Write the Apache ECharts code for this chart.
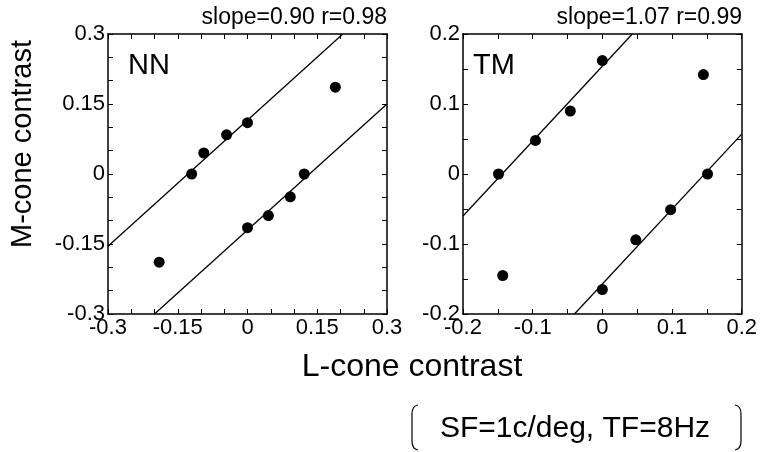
<!DOCTYPE html>
<html>
<head>
<meta charset="utf-8">
<script src="https://cdn.jsdelivr.net/npm/echarts@6/dist/echarts.min.js"></script>
<style>html,body{margin:0;padding:0;background:#fff}#c{width:760px;height:452px}</style>
</head>
<body>
<div id="c"></div>
<script>
// NN panel data (L-cone, M-cone)
var nnPoints = [[-0.190,-0.189],[-0.120,0.000],[-0.094,0.045],[-0.045,0.084],[0.000,0.110],
                [0.000,-0.115],[0.045,-0.089],[0.092,-0.049],[0.122,0.000],[0.189,0.186]];
var nnFitUpper = [[-0.3,-0.155],[0.205,0.3]];
var nnFitLower = [[-0.2,-0.3],[0.3,0.15]];
var nnStats = 'slope=0.90 r=0.98';
// TM panel data
var tmPoints = [[-0.149,0.000],[-0.096,0.048],[-0.046,0.090],[0.000,0.162],[0.145,0.142],
                [-0.143,-0.145],[0.000,-0.165],[0.048,-0.094],[0.098,-0.051],[0.151,0.000]];
var tmFitUpper = [[-0.2,-0.06],[0.043,0.2]];
var tmFitLower = [[-0.04,-0.2],[0.2,0.057]];
var tmStats = 'slope=1.07 r=0.99';
var nnRange = [-0.3, 0.3], nnInterval = 0.15;
var tmRange = [-0.2, 0.2], tmInterval = 0.1;
var xName = 'L-cone contrast', yName = 'M-cone contrast';
var condition = 'SF=1c/deg, TF=8Hz';

var FONT = 'Liberation Sans';
var chart = echarts.init(document.getElementById('c'), null, {renderer: 'canvas'});

function axisPair(kind, gridIndex, range, interval, split) {
  var base = {
    type: 'value', gridIndex: gridIndex, min: range[0], max: range[1], interval: interval,
    axisLine: {show: true, onZero: false, lineStyle: {color: '#000', width: 1.5}},
    axisTick: {show: true, inside: true, length: 5, lineStyle: {color: '#000', width: 1}},
    minorTick: {show: true, splitNumber: split, length: 5, lineStyle: {color: '#000', width: 1}},
    splitLine: {show: false}, minorSplitLine: {show: false}
  };
  var a = Object.assign({}, base, {
    position: kind === 'x' ? 'bottom' : 'left',
    axisLabel: {show: true, color: '#000', fontFamily: FONT, fontSize: 22, margin: kind === 'x' ? 3 : 3}
  });
  var b = Object.assign({}, base, {
    position: kind === 'x' ? 'top' : 'right',
    axisLabel: {show: false}
  });
  return [a, b];
}
var xAxes = [].concat(axisPair('x', 0, nnRange, nnInterval, 3), axisPair('x', 1, tmRange, tmInterval, 2));
var yAxes = [].concat(axisPair('y', 0, nnRange, nnInterval, 3), axisPair('y', 1, tmRange, tmInterval, 2));

function scatter(data, xi, yi) {
  return {type: 'scatter', xAxisIndex: xi, yAxisIndex: yi, data: data, symbol: 'circle', symbolSize: 11,
          itemStyle: {color: '#000', opacity: 1}, silent: true, z: 5};
}
function fit(data, xi, yi) {
  return {type: 'line', xAxisIndex: xi, yAxisIndex: yi, data: data, showSymbol: false, symbol: 'none',
          lineStyle: {color: '#000', width: 1.3}, silent: true, clip: true, z: 4};
}

function bracket(xOuter, xInner) {
  var st = {stroke: '#000', lineWidth: 1.2, fill: 'none'};
  return [
    {type: 'bezierCurve', shape: {x1: xInner, y1: 405, x2: xOuter, y2: 414, cpx1: xOuter, cpy1: 406}, style: st},
    {type: 'line', shape: {x1: xOuter, y1: 414, x2: xOuter, y2: 441}, style: st},
    {type: 'bezierCurve', shape: {x1: xOuter, y1: 441, x2: xInner, y2: 450, cpx1: xOuter, cpy1: 449}, style: st}
  ];
}

var txt = function (x, y, text, size, align, extra) {
  return Object.assign({type: 'text', x: x, y: y,
    style: {text: text, font: size + 'px "' + FONT + '"', fill: '#000', textAlign: align, textVerticalAlign: 'middle'}}, extra || {});
};

chart.setOption({
  animation: false,
  backgroundColor: '#fff',
  grid: [
    {left: 108, top: 34, width: 279, height: 280, containLabel: false},
    {left: 463, top: 34, width: 279, height: 280, containLabel: false}
  ],
  xAxis: xAxes,
  yAxis: yAxes,
  series: [
    fit(nnFitUpper, 0, 0), fit(nnFitLower, 0, 0), scatter(nnPoints, 0, 0),
    fit(tmFitUpper, 2, 2), fit(tmFitLower, 2, 2), scatter(tmPoints, 2, 2)
  ],
  graphic: [
    txt(387, 18, nnStats, 23, 'right'),
    txt(742, 18, tmStats, 23, 'right'),
    txt(128, 66, 'NN', 29, 'left'),
    txt(473, 66, 'TM', 29, 'left'),
    txt(412, 367, xName, 32, 'center'),
    txt(23, 144, yName, 29, 'center', {rotation: Math.PI / 2}),
    txt(575, 429, condition, 30, 'center')
  ].concat(bracket(412, 418), bracket(741, 735))
});
</script>
</body>
</html>
